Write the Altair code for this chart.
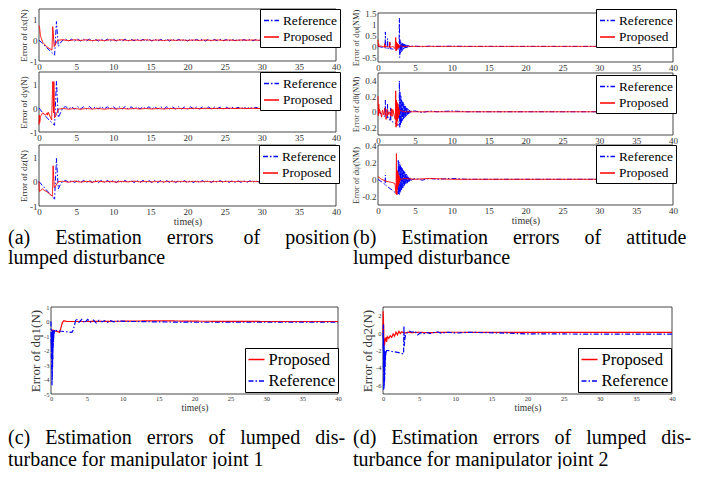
import altair as alt
import numpy as np
import pandas as pd

FONT = "'Liberation Serif', 'Times New Roman', Times, 'DejaVu Serif', serif"
W, H = 686, 461
BLUE, RED = "#0000ff", "#ff0000"
DASHDOT = [5, 2, 1.5, 2]
SOLID = [1, 0]
TXT = "#333333"
NB = "\u00a0"

XTICKS = [0, 5, 10, 15, 20, 25, 30, 35, 40]

# ---------------- sampling grids ----------------
a_tail_t = [round(3.6 + 0.4 * i, 2) for i in range(92)]      # 3.6 .. 40.0
r_tail_t = [round(3.2 + 0.8 * i, 2) for i in range(47)]      # 3.2 .. 40.0
b_burst_t = [round(2.9 + 0.05 * i, 2) for i in range(33)]    # 2.9 .. 4.5
b3_burst_t = [round(2.75 + 0.05 * i, 2) for i in range(36)]  # 2.75 .. 4.5
bp_burst_t = [round(2.4 + 0.05 * i, 2) for i in range(11)]   # 2.4 .. 2.9
b3p_burst_t = [round(2.55 + 0.05 * i, 2) for i in range(10)] # 2.55 .. 3.0
b_tail_t = [5, 6, 7, 8, 10, 12, 15, 20, 25, 30, 35, 40]

# ---------------- panel (a): position ----------------
a1_ref_tail = [
    0.05, -0.04, 0.05, -0.04, 0.05, -0.04, 0.05, -0.03, 0.05, -0.04,
    0.04, -0.04, 0.05, -0.04, 0.05, -0.04, 0.05, -0.04, 0.04, -0.04,
    0.05, -0.04, 0.05, -0.03, 0.05, -0.04, 0.04, -0.04, 0.05, -0.04,
    0.05, -0.04, 0.04, -0.04, 0.05, -0.04, 0.05, -0.04, 0.04, -0.03,
    0.04, -0.04, 0.04, -0.04, 0.04, -0.03, 0.04, -0.04, 0.04, -0.03,
    0.04, -0.03, 0.04, -0.03, 0.03, -0.03, 0.04, -0.03, 0.03, -0.03,
    0.03, -0.02, 0.03, -0.03, 0.03, -0.02, 0.03, -0.02, 0.02, -0.02,
    0.02, -0.02, 0.02, -0.02, 0.02, -0.02, 0.02, -0.01, 0.02, -0.01,
    0.02, -0.01, 0.01, -0.01, 0.01, -0.01, 0.01, -0.01, 0.01, -0.01,
    0.01, -0.01]
a2_ref_tail = [
    0.06, -0.04, 0.05, -0.05, 0.06, -0.04, 0.05, -0.04, 0.06, -0.05,
    0.05, -0.04, 0.06, -0.04, 0.05, -0.05, 0.05, -0.04, 0.05, -0.04,
    0.06, -0.04, 0.05, -0.05, 0.05, -0.04, 0.05, -0.04, 0.05, -0.04,
    0.05, -0.04, 0.05, -0.04, 0.05, -0.04, 0.04, -0.04, 0.05, -0.04,
    0.04, -0.04, 0.05, -0.03, 0.04, -0.04, 0.04, -0.03, 0.04, -0.03,
    0.04, -0.03, 0.04, -0.03, 0.04, -0.03, 0.03, -0.03, 0.03, -0.03,
    0.03, -0.03, 0.03, -0.02, 0.03, -0.02, 0.03, -0.02, 0.02, -0.02,
    0.02, -0.02, 0.02, -0.02, 0.02, -0.02, 0.02, -0.01, 0.02, -0.01,
    0.02, -0.01, 0.01, -0.01, 0.01, -0.01, 0.01, -0.01, 0.01, -0.01,
    0.01, -0.01]
a3_ref_tail = [
    0.05, -0.04, 0.05, -0.04, 0.06, -0.04, 0.05, -0.04, 0.05, -0.04,
    0.05, -0.04, 0.05, -0.04, 0.05, -0.04, 0.05, -0.04, 0.05, -0.04,
    0.05, -0.04, 0.05, -0.04, 0.05, -0.04, 0.05, -0.04, 0.05, -0.04,
    0.05, -0.04, 0.05, -0.04, 0.04, -0.04, 0.05, -0.04, 0.04, -0.04,
    0.04, -0.04, 0.04, -0.04, 0.04, -0.03, 0.04, -0.03, 0.04, -0.03,
    0.04, -0.03, 0.04, -0.03, 0.03, -0.03, 0.03, -0.03, 0.03, -0.03,
    0.03, -0.03, 0.03, -0.02, 0.03, -0.02, 0.03, -0.02, 0.02, -0.02,
    0.02, -0.02, 0.02, -0.02, 0.02, -0.02, 0.02, -0.01, 0.02, -0.01,
    0.02, -0.01, 0.01, -0.01, 0.01, -0.01, 0.01, -0.01, 0.01, -0.01,
    0.01, -0.01]
a1_prop_tail = [
    0.02, -0.02, 0.02, -0.01, 0.02, -0.02, 0.01, -0.02, 0.02, -0.01,
    0.02, -0.02, 0.01, -0.01, 0.02, -0.01, 0.01, -0.02, 0.01, -0.01,
    0.01, -0.01, 0.01, -0.01, 0.01, -0.01, 0.01, -0.01, 0.01, -0.01,
    0.01, 0.0, 0.01, 0.0, 0.01, 0.0, 0.01, 0.0, 0.01, 0.0,
    0.01, 0.0, 0.01, 0.0, 0.01, 0.0, 0.0]
a2_prop_tail = [
    -0.02, -0.05, -0.02, -0.05, -0.02, -0.04, -0.02, -0.05, -0.02, -0.04,
    -0.02, -0.04, -0.02, -0.04, -0.02, -0.04, -0.02, -0.04, -0.02, -0.03,
    -0.02, -0.03, -0.01, -0.03, -0.01, -0.03, -0.01, -0.03, -0.01, -0.02,
    -0.01, -0.02, -0.01, -0.02, -0.01, -0.02, -0.01, -0.02, -0.01, -0.02,
    -0.01, -0.02, -0.01, -0.01, -0.01, -0.01, -0.01]
a3_prop_tail = [
    0.01, -0.02, 0.02, -0.02, 0.01, -0.02, 0.02, -0.01, 0.01, -0.02,
    0.01, -0.01, 0.02, -0.01, 0.01, -0.01, 0.01, -0.01, 0.01, -0.01,
    0.01, -0.01, 0.01, -0.01, 0.01, -0.01, 0.01, 0.0, 0.01, 0.0,
    0.01, 0.0, 0.01, 0.0, 0.01, 0.0, 0.01, 0.0, 0.01, 0.0,
    0.01, 0.0, 0.01, 0.0, 0.0, 0.0, 0.0]

a1_ref_t = [0, 0.3, 1.0, 1.6, 2.1, 2.35, 2.6, 2.85, 3.2] + a_tail_t
a1_ref_v = [0, -0.1, -0.35, -0.55, -0.72, 0.9, -0.3, -0.15, 0.0] + a1_ref_tail
a1_prop_t = [0, 0.08, 0.2, 0.5, 1.0, 1.5, 1.75, 1.85, 2.05, 2.2, 2.5] + r_tail_t
a1_prop_v = [0.7, 0.6, 0.2, -0.1, -0.3, -0.42, -0.47, 0.65, -0.3, -0.2, 0.0] + a1_prop_tail

a2_ref_t = [0, 0.5, 1.2, 2.1, 2.35, 2.6, 2.9, 3.2] + a_tail_t
a2_ref_v = [0, -0.2, -0.45, -0.72, 1.12, -0.4, -0.2, 0.0] + a2_ref_tail
a2_prop_t = [0, 0.05, 0.1, 0.2, 0.5, 0.9, 1.1, 1.15, 1.25, 1.7, 1.85, 1.95, 2.0, 2.1, 2.3, 2.6] + r_tail_t
a2_prop_v = [-0.7, -0.3, -0.6, -0.35, -0.2, -0.3, -0.2, -0.3, -0.18, -0.5, 1.1, -0.2, 1.1, -0.4, -0.3, -0.05] + a2_prop_tail

a3_ref_t = [0, 2.1, 2.35, 2.6, 2.9, 3.2] + a_tail_t
a3_ref_v = [0, -0.72, 0.95, -0.3, -0.1, 0.0] + a3_ref_tail
a3_prop_t = [0, 0.05, 0.3, 0.5, 0.8, 1.0, 1.4, 1.8, 1.9, 2.05, 2.3, 2.6] + r_tail_t
a3_prop_v = [0, -0.4, -0.35, -0.3, -0.38, -0.4, -0.5, -0.6, 0.65, -0.25, -0.15, 0.0] + a3_prop_tail

# ---------------- panel (b): attitude ----------------
b_ref_tail = [0.01, -0.01, 0.01, 0.0, 0.01, 0.0, 0.0, 0.0, 0.0, 0.0, 0.0, 0.0]
b_prop_tail_t = [3.2, 3.5, 5, 10, 20, 30, 40]
b_prop_tail = [0.01, 0.0, 0.0, 0.0, 0.0, 0.0, 0.0]

b1_ref_t = [0, 0.3, 0.6, 0.95, 1.0, 1.05, 1.25, 1.3, 1.35, 1.55, 1.6, 1.65, 2.0, 2.4, 2.6, 2.85] + b_burst_t + b_tail_t
b1_ref_v = ([0, -0.02, -0.04, -0.06, 0.65, -0.08, -0.08, 0.35, -0.1, -0.1, 0.2, -0.1, -0.12, -0.14, -0.15, -0.15]
            + [1.27, -0.5, 0.3, -0.3, 0.2, -0.25, 0.15, -0.2, 0.14, -0.15, 0.12, -0.12, 0.1, -0.1, 0.1,
               -0.08, 0.08, -0.07, 0.07, -0.06, 0.06, -0.05, 0.05, -0.04, 0.04, -0.03, 0.03, -0.03,
               0.02, -0.02, 0.02, -0.01, 0.01]
            + b_ref_tail)
b1_prop_t = [0, 0.05, 0.1, 0.15, 0.3, 0.6, 0.85, 0.9, 0.95, 1.0, 1.3, 1.55, 1.6, 1.65, 2.0, 2.2, 2.3, 2.35] + bp_burst_t + b_prop_tail_t
b1_prop_v = ([0.3, 0.0, 0.12, -0.02, 0.02, 0.0, -0.03, 0.12, -0.04, 0.02, -0.02, -0.03, 0.2, -0.05, 0.0, -0.05, -0.1, 0.1]
             + [0.4, -0.2, 0.2, -0.15, 0.15, -0.12, 0.1, -0.08, 0.08, -0.05, 0.03]
             + b_prop_tail)

b2_ref_t = [0, 0.5, 0.95, 1.0, 1.05, 1.25, 1.3, 1.35, 1.65, 1.7, 1.75, 2.2, 2.6, 2.85] + b_burst_t + b_tail_t
b2_ref_v = ([0, -0.03, -0.06, 0.15, -0.07, -0.08, 0.1, -0.09, -0.11, 0.05, -0.12, -0.14, -0.17, -0.17]
            + [0.4, -0.2, 0.25, -0.18, 0.2, -0.15, 0.15, -0.12, 0.13, -0.1, 0.12, -0.1, 0.1, -0.08,
               0.08, -0.07, 0.07, -0.06, 0.06, -0.05, 0.05, -0.04, 0.04, -0.03, 0.03, -0.03, 0.02,
               -0.02, 0.02, -0.01, 0.01, -0.01, 0.01]
            + b_ref_tail)
b2_prop_t = [0, 0.05, 0.1, 0.15, 0.2, 0.4, 0.5, 0.6, 0.8, 0.9, 1.0, 1.1, 1.2, 1.3, 1.5, 1.7, 1.8, 1.9, 2.0, 2.2, 2.35] + bp_burst_t + b_prop_tail_t
b2_prop_v = ([0.2, -0.05, 0.1, -0.02, 0.03, -0.03, -0.07, 0.02, -0.04, 0.05, -0.02, -0.1, 0.03, -0.05, 0.0, -0.05, 0.04, -0.06, 0.03, -0.05, -0.1]
             + [0.27, -0.2, 0.15, -0.18, 0.12, -0.12, 0.1, -0.08, 0.06, -0.04, 0.02]
             + b_prop_tail)

b3_ref_t = [0, 0.5, 0.95, 1.0, 1.05, 1.5, 2.0, 2.5, 2.7] + b3_burst_t + b_tail_t
b3_ref_v = ([0, -0.03, -0.06, 0.05, -0.07, -0.1, -0.13, -0.17, -0.17]
            + [0.22, -0.18, 0.2, -0.18, 0.18, -0.16, 0.16, -0.14, 0.15, -0.12, 0.13, -0.1, 0.12, -0.1,
               0.1, -0.08, 0.09, -0.07, 0.08, -0.06, 0.07, -0.05, 0.06, -0.05, 0.05, -0.04, 0.04,
               -0.03, 0.03, -0.03, 0.02, -0.02, 0.02, -0.01, 0.01, -0.01]
            + b_ref_tail)
b3_prop_t = [0, 0.5, 1.0, 1.5, 2.0, 2.3, 2.45, 2.5] + b3p_burst_t + [3.2, 3.5, 5, 7, 10, 20, 30, 40]
b3_prop_v = ([0.03, 0.0, -0.02, -0.03, -0.04, -0.05, -0.17, 0.3]
             + [-0.18, 0.1, -0.12, 0.08, -0.08, 0.05, -0.05, 0.03, -0.02, 0.01]
             + [0.0, 0.01, 0.0, 0.01, 0.0, 0.0, 0.0, 0.0])

# ---------------- panel (c): joint 1 ----------------
c_ref_t = [0, 0.02, 0.04, 0.06, 0.08, 0.10, 0.12, 0.14, 0.16, 0.18, 0.20, 0.22, 0.24, 0.26, 0.28,
           0.30, 0.32, 0.34, 0.36, 0.38, 0.40, 0.44, 0.48, 0.52, 0.6, 1.0, 2.0, 2.9, 3.1, 3.5, 3.9,
           4.3, 4.7, 5.1, 5.5, 5.9, 6.3, 6.7, 7.1, 7.5, 7.9, 8.3, 8.7, 9.5, 10.5, 12, 15, 20, 25,
           30, 35, 40]
c_ref_v = [0, -1.5, -0.8, -2.5, -0.7, -3.5, -0.6, -4.4, -0.7, -4.0, -0.6, -3.2, -0.7, -2.6, -0.6,
           -2.0, -0.7, -1.6, -0.6, -1.2, -0.7, -0.9, -0.6, -0.7, -0.6, -0.65, -0.7, -0.75, -0.6,
           0.2, -0.05, 0.15, -0.1, 0.15, -0.05, 0.1, -0.1, 0.08, -0.03, 0.06, -0.05, 0.05, -0.02,
           0.03, 0.0, 0.0, -0.03, -0.05, -0.05, -0.05, -0.05, -0.05]
c_prop_t = [0, 0.3, 0.5, 1.0, 1.2, 1.4, 1.6, 1.8, 2.2, 5, 10, 15, 20, 30, 40]
c_prop_v = [-0.6, -0.6, -0.65, -0.7, -0.75, -0.4, -0.05, 0.05, 0.0, 0.0, 0.02, 0.05, 0.02, 0.0, 0.0]

# ---------------- panel (d): joint 2 ----------------
d_ref_t = [0, 0.02, 0.04, 0.06, 0.08, 0.1, 0.12, 0.14, 0.16, 0.18, 0.2, 0.22, 0.24, 0.26, 0.28, 0.3,
           0.32, 0.34, 0.36, 0.4, 0.5, 0.7, 1.5, 2.2, 2.85, 2.9, 2.95, 3.0, 3.1, 3.3, 3.6, 4.0, 4.4,
           4.8, 5.2, 5.6, 6.0, 6.5, 7.0, 7.5, 8.0, 9.0, 10, 12, 14, 17, 20, 25, 30, 35, 40]
d_ref_v = [0, -2.0, 1.0, -4.0, -0.5, -6.5, -1.0, -6.3, -1.5, -6.0, -2.0, -5.5, -2.0, -4.8, -2.2,
           -4.0, -2.0, -3.2, -2.1, -2.5, -2.0, -2.0, -2.15, -2.25, -2.4, 0.8, -1.5, -0.8, -0.3,
           0.0, 0.25, 0.1, 0.2, -0.2, 0.05, -0.1, 0.1, -0.05, 0.05, 0.15, 0.0, 0.1, 0.0, 0.1, 0.05,
           0.0, -0.1, -0.1, -0.12, -0.12, -0.12]
d_prop_t = [0, 0.02, 0.04, 0.06, 0.08, 0.1, 0.12, 0.15, 0.2, 0.3, 0.4, 0.5, 0.6, 0.8, 1.0, 1.2, 1.4,
            1.6, 1.8, 2.0, 2.2, 2.4, 2.6, 3.0, 3.5, 4.0, 5.0, 6.0, 8.0, 10, 15, 20, 30, 40]
d_prop_v = [0, 2.5, -0.5, 2.0, -1.0, 1.0, -1.5, -0.6, -1.4, -0.8, -0.5, -1.0, -0.4, -0.6, -0.3, -0.5,
            -0.1, -0.35, 0.1, -0.2, 0.2, -0.05, 0.15, 0.0, 0.1, 0.05, 0.1, 0.05, 0.08, 0.1, 0.08,
            0.08, 0.08, 0.08]

# ---------------- captions ----------------
cap_a = ["(a)" + NB * 5 + "Estimation" + NB * 5 + "errors" + NB * 6 + "of" + NB * 5 + "position",
         "lumped disturbance"]
cap_b = ["(b)" + NB * 5 + "Estimation" + NB * 5 + "errors" + NB * 5 + "of" + NB * 5 + "attitude",
         "lumped disturbance"]
cap_c = ["(c)" + NB * 3 + "Estimation" + NB * 3 + "errors" + NB * 3 + "of" + NB * 3 + "lumped" + NB * 3 + "dis-",
         "turbance for manipulator joint 1"]
cap_d = ["(d)" + NB * 3 + "Estimation" + NB * 3 + "errors" + NB * 3 + "of" + NB * 3 + "lumped" + NB * 3 + "dis-",
         "turbance for manipulator joint 2"]

COLORS = {"Reference": BLUE, "Proposed": RED}
DASHES = {"Reference": DASHDOT, "Proposed": SOLID}
LABEL_EXPR = "datum.value < 0 ? '-' + format(-datum.value, '~g') : format(datum.value, '~g')"


def sdf(t, v, name):
    assert len(t) == len(v), (name, len(t), len(v))
    return pd.DataFrame({"t": t, "v": v, "series": name})


def panel(ref, prop, ydom, yticks, ytitle, box, leg, order, draw, st):
    x0, x1, y0, y1 = box
    xs = alt.Scale(domain=[0, 40], range=[x0, x1], nice=False, zero=False)
    ys = alt.Scale(domain=ydom, range=[y1, y0], nice=False, zero=False)
    xa = alt.Axis(orient="bottom", offset=y1 - H, values=XTICKS, title=st["xtitle"],
                  labelFont=FONT, labelFontSize=st["tfs"], labelColor=TXT, labelPadding=st["xlp"],
                  labelFlush=False, labelOverlap=False, ticks=False, domain=False, grid=False,
                  titleFont=FONT, titleFontSize=st["xtfs"], titleFontWeight="normal",
                  titleColor=TXT, titlePadding=st["xtp"])
    ya = alt.Axis(orient="left", offset=-x0, values=yticks, title=ytitle, labelExpr=LABEL_EXPR,
                  labelFont=FONT, labelFontSize=st["tfs"], labelColor=TXT, labelPadding=2,
                  labelFlush=False, labelOverlap=False, ticks=False, domain=False, grid=False,
                  titleFont=FONT, titleFontSize=st["ytfs"], titleFontWeight="normal",
                  titleColor=TXT, titlePadding=st["ytp"])
    cs = alt.Scale(domain=order, range=[COLORS[s] for s in order])
    ds = alt.Scale(domain=order, range=[DASHES[s] for s in order])
    lg = alt.Legend(title=None, orient="none", legendX=leg[0], legendY=leg[1],
                    symbolType="stroke", symbolSize=st["sym"] ** 2, symbolStrokeWidth=1.4,
                    labelFont=FONT, labelFontSize=st["lfs"], labelColor="black", labelOffset=3,
                    rowPadding=st["rp"], padding=st["lp"], strokeColor="black", fillColor="white",
                    direction="vertical")
    frame_df = pd.DataFrame({"fx": [0], "fx2": [40], "fy": [ydom[0]], "fy2": [ydom[1]]})
    frame = alt.Chart(frame_df).mark_rect(fillOpacity=0, stroke="#1a1a1a", strokeWidth=0.8).encode(
        x=alt.X("fx:Q", scale=xs, axis=xa), x2="fx2:Q",
        y=alt.Y("fy:Q", scale=ys, axis=ya), y2="fy2:Q")
    data = {"Reference": ref, "Proposed": prop}
    layers = [frame]
    for name in draw:
        layers.append(
            alt.Chart(data[name]).mark_line(strokeWidth=st["lw"]).encode(
                x=alt.X("t:Q", scale=xs, axis=xa),
                y=alt.Y("v:Q", scale=ys, axis=ya),
                color=alt.Color("series:N", scale=cs, legend=lg),
                strokeDash=alt.StrokeDash("series:N", scale=ds, legend=lg),
            )
        )
    return alt.layer(*layers)


small = dict(tfs=9, xlp=1, xtfs=10, xtp=0, ytfs=9, ytp=1, sym=15, lfs=13.3, rp=1.5, lp=3, lw=1.0, xtitle=None)
small_t = dict(small, xtitle="time(s)")
small_b = dict(small, ytfs=8.3)
small_bt = dict(small_b, xtitle="time(s)")
big = dict(tfs=6.5, xlp=1.5, xtfs=9.5, xtp=0, ytfs=13, ytp=1, sym=16, lfs=16.5, rp=3.5, lp=2.5, lw=1.2, xtitle="time(s)")

RP = ["Reference", "Proposed"]
PR = ["Proposed", "Reference"]

panels = [
    panel(sdf(a1_ref_t, a1_ref_v, "Reference"), sdf(a1_prop_t, a1_prop_v, "Proposed"),
          [-1, 1.5], [-1, 0, 1], "Error of dx(N)", (31, 328, 1, 53), (252, 1), RP, RP, small),
    panel(sdf(a2_ref_t, a2_ref_v, "Reference"), sdf(a2_prop_t, a2_prop_v, "Proposed"),
          [-1, 1.5], [-1, 0, 1], "Error of dy(N)", (31, 328, 64, 124), (252, 64), RP, RP, small),
    panel(sdf(a3_ref_t, a3_ref_v, "Reference"), sdf(a3_prop_t, a3_prop_v, "Proposed"),
          [-1, 1.5], [-1, 0, 1], "Error of dz(N)", (31, 328, 137, 198), (251, 137), RP, RP, small_t),
    panel(sdf(b1_ref_t, b1_ref_v, "Reference"), sdf(b1_prop_t, b1_prop_v, "Proposed"),
          [-0.7, 1.5], [-0.5, 0, 0.5, 1, 1.5], "Error of dφ(NM)", (370, 665, 5, 54), (588, 1), RP, RP, small_b),
    panel(sdf(b2_ref_t, b2_ref_v, "Reference"), sdf(b2_prop_t, b2_prop_v, "Proposed"),
          [-0.3, 0.5], [-0.2, 0, 0.2, 0.4], "Error of dθ(NM)", (370, 665, 65, 127), (588, 67), RP, RP, small_b),
    panel(sdf(b3_ref_t, b3_ref_v, "Reference"), sdf(b3_prop_t, b3_prop_v, "Proposed"),
          [-0.3, 0.4], [-0.2, 0, 0.2, 0.4], "Error of dψ(NM)", (370, 665, 137, 197), (588, 137), RP, RP, small_bt),
    panel(sdf(c_ref_t, c_ref_v, "Reference"), sdf(c_prop_t, c_prop_v, "Proposed"),
          [-5, 1], [-5, -4, -3, -2, -1, 0, 1], "Error of dq1(N)", (43, 330, 299, 386), (237, 340), PR, PR, big),
    panel(sdf(d_ref_t, d_ref_v, "Reference"), sdf(d_prop_t, d_prop_v, "Proposed"),
          [-7, 3], [-6, -4, -2, 0, 2], "Error of dq2(N)", (375, 664, 299, 386), (570, 340), PR, PR, big),
]


def caption(lines, x, ys):
    out = []
    for line, y in zip(lines, ys):
        out.append(
            alt.Chart(pd.DataFrame({"text": [line]})).mark_text(
                align="left", baseline="middle", font=FONT, fontSize=20, color="black"
            ).encode(text="text:N", x=alt.value(x), y=alt.value(y))
        )
    return out


caps = (caption(cap_a, 0, [230, 250]) + caption(cap_b, 345, [230, 250])
        + caption(cap_c, 0, [430, 452]) + caption(cap_d, 345, [430, 452]))

chart = alt.layer(*panels, *caps).resolve_scale(
    x="independent", y="independent", color="independent", strokeDash="independent"
).resolve_axis(x="independent", y="independent").resolve_legend(
    color="independent", strokeDash="independent"
).properties(
    width=W, height=H, autosize=alt.AutoSizeParams(type="none"), padding=0
).configure_view(strokeWidth=0)

chart.save("out.html", embed_options={"renderer": "svg", "actions": False})
